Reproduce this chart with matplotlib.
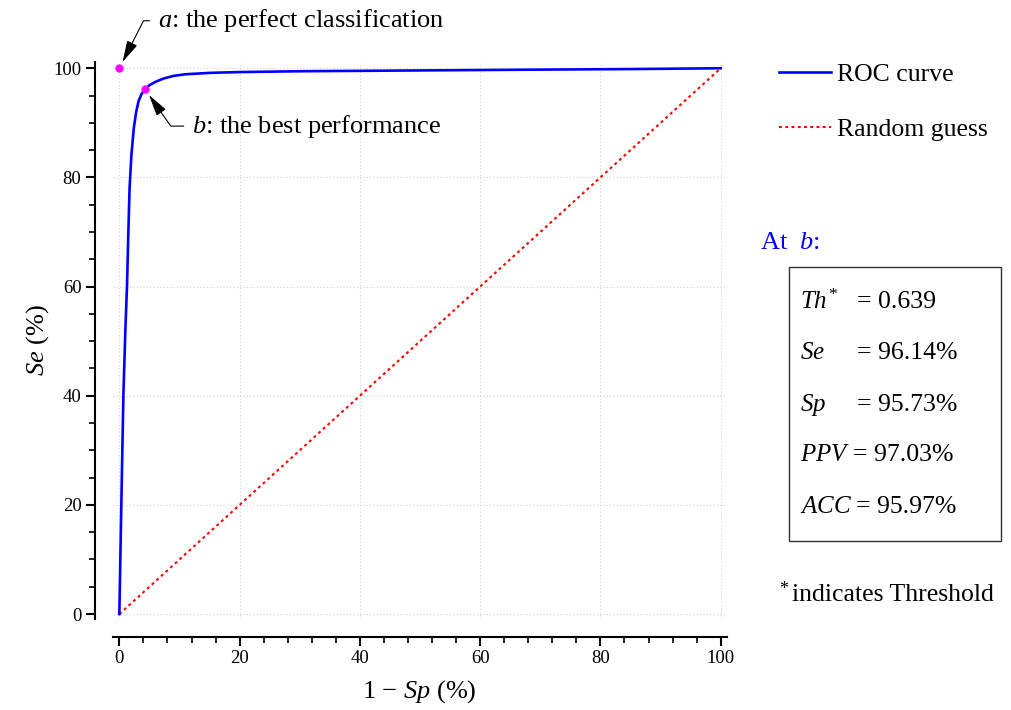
import matplotlib
matplotlib.use('Agg')
import matplotlib.pyplot as plt
from matplotlib.patches import Rectangle

plt.rcParams['font.family'] = ['Liberation Serif', 'DejaVu Serif']
plt.rcParams['mathtext.fontset'] = 'custom'
plt.rcParams['mathtext.rm'] = 'Liberation Serif'
plt.rcParams['mathtext.it'] = 'Liberation Serif:italic'
plt.rcParams['mathtext.bf'] = 'Liberation Serif:bold'

# ROC curve (1 - Sp, Se), in %
fpr = [0, 0.33, 0.67, 1.0, 1.27, 1.5, 1.7, 2.0, 2.4, 2.8, 3.2, 3.7, 4.27,
       5.0, 6.0, 7.3, 9.0, 11, 15, 20, 30, 50, 70, 85, 100]
tpr = [0, 20, 40, 52, 60, 70, 78, 84, 89, 92, 94, 95.3, 96.14,
       96.9, 97.5, 98.1, 98.6, 98.9, 99.15, 99.3, 99.45, 99.6, 99.75, 99.85, 100]
guess = [0, 100]

# operating points
pt_a = (0, 100)
pt_b = (100 - 95.73, 96.14)

# metrics at b
metric_names = ['$Th^{*}$', '$Se$', '$Sp$', '$PPV$', '$ACC$']
metric_values = ['= 0.639', '= 96.14%', '= 95.73%', '= 97.03%', '= 95.97%']

fig = plt.figure(figsize=(10.11, 7.10), dpi=100)
ax = fig.add_axes([0.1115, 0.1282, 0.6073, 0.7849])

ax.plot(fpr, tpr, color='#0000ff', lw=1.9, label='ROC curve', zorder=3)
ax.plot(guess, guess, color='#ff0000', lw=1.5, ls=(0, (1.4, 1.6)),
        label='Random guess', zorder=2)
ax.plot(*pt_a, 'o', color='#ff00ff', ms=5, zorder=4, clip_on=False)
ax.plot(*pt_b, 'o', color='#ff00ff', ms=5, zorder=4)

ax.set_xlim(-1.1, 101.0)
ax.set_ylim(-0.9, 101.2)
ax.set_xticks(range(0, 101, 20))
ax.set_yticks(range(0, 101, 20))
ax.set_xticks(range(0, 101, 4), minor=True)
ax.set_yticks(range(0, 101, 5), minor=True)
ax.grid(True, which='major', color='#d4d4d4', ls=(0, (1, 2)), lw=0.8)

for s in ['top', 'right']:
    ax.spines[s].set_visible(False)
for s in ['left', 'bottom']:
    ax.spines[s].set_position(('outward', 13))
    ax.spines[s].set_linewidth(1.5)
ax.tick_params(which='major', length=6.5, width=1.5, labelsize=13.5, pad=3)
ax.tick_params(which='minor', length=4, width=1.2)

ax.set_xlabel('1 \u2212 $Sp$ (%)', fontsize=19, labelpad=8)
ax.set_ylabel('$Se$ (%)', fontsize=19, labelpad=2)

arrow = dict(arrowstyle='-|>,head_length=0.7,head_width=0.18', color='black',
             lw=0.8, shrinkA=4, shrinkB=5)
ax.annotate('$a$: the perfect classification', xy=pt_a, xytext=(6.4, 108.7),
            fontsize=19, ha='left', va='center', annotation_clip=False,
            arrowprops=dict(arrow, connectionstyle='angle,angleA=0,angleB=63,rad=0'))
ax.annotate('$b$: the best performance', xy=pt_b, xytext=(12.1, 89.4),
            fontsize=19, ha='left', va='center',
            arrowprops=dict(arrow, connectionstyle='angle,angleA=0,angleB=-55,rad=0'))

ax.legend(loc='upper left', bbox_to_anchor=(0.758, 0.93),
          bbox_transform=fig.transFigure, frameon=False, fontsize=18.5,
          handlelength=2.0, handletextpad=0.25, labelspacing=1.25, borderpad=0)

# panel on the right
fig.text(760 / 1011, 1 - 243 / 710, 'At  $b$:', color='#0000ff', fontsize=19,
         ha='left', va='center')
fig.patches.append(Rectangle((789 / 1011, 1 - 541 / 710), 212 / 1011, 274 / 710,
                             transform=fig.transFigure, fill=False,
                             edgecolor='#333333', lw=1.0))
row_y = [302, 353, 405, 455, 507]
value_x = [857, 857, 857, 853, 856]
for name, val, y, vx in zip(metric_names, metric_values, row_y, value_x):
    fig.text(800 / 1011, 1 - y / 710, name, fontsize=18, ha='left', va='center')
    fig.text(vx / 1011, 1 - y / 710, val, fontsize=18.5, ha='left', va='center')

fig.text(779 / 1011, 1 - 589 / 710, '*', fontsize=13, ha='left', va='center')
fig.text(792 / 1011, 1 - 595 / 710, 'indicates Threshold', fontsize=18.5,
         ha='left', va='center')

fig.savefig('out.png', dpi=100)
